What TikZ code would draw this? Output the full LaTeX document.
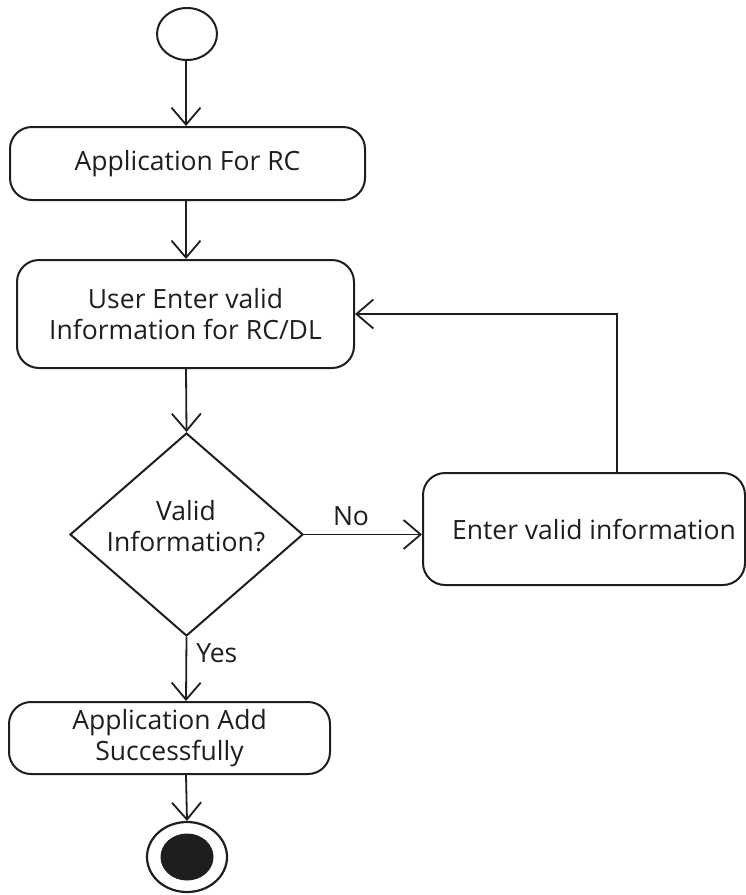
\documentclass[tikz,border=0pt]{standalone}
\usepackage{fontspec}
\setmainfont{Open Sans}
\usetikzlibrary{arrows.meta,shapes.geometric}
\definecolor{ink}{HTML}{1E1E1E}
\begin{document}
\begin{tikzpicture}[x=1pt,y=-1pt,
  txt/.style={font=\fontsize{26.5}{31}\selectfont, text=ink, align=center, inner sep=0pt},
  act/.style={draw=ink, line width=2pt, rounded corners=22pt, inner sep=0pt},
  flow/.style={draw=ink, line width=1.8pt,
    -{Straight Barb[length=17pt,width=29pt,line width=1.8pt]}},
]
\useasboundingbox (0,0) rectangle (746,895);

% start and end states
\node[ellipse, draw=ink, line width=2pt, minimum width=60pt, minimum height=52pt, inner sep=0pt] (start) at (187,34) {};
\node[ellipse, draw=ink, line width=2.2pt, minimum width=80pt, minimum height=70pt, inner sep=0pt] (stop) at (187,857) {};
\node[ellipse, fill=ink, minimum width=53pt, minimum height=47pt, inner sep=0pt] (stopdot) at (stop.center) {};

% activities
\node[act, minimum width=355pt, minimum height=73pt] (apply) at (187.5,163.5) {};
\node[txt] at (apply.center) {Application For RC};

\node[act, minimum width=337pt, minimum height=108pt] (input) at (185.5,314) {};
\node[txt] at (input.center) {User Enter valid\\Information for RC/DL};

\node[diamond, draw=ink, line width=2pt, minimum width=233pt, minimum height=203pt, inner sep=0pt] (check) at (186.5,534.5) {};
\node[txt] at (186,526) {Valid\\Information?};

\node[act, minimum width=322pt, minimum height=112pt] (fix) at (584,529) {};
\node[txt] at (594,529) {Enter valid information};

\node[act, minimum width=321pt, minimum height=72pt] (done) at (169.5,738) {};
\node[txt] at (done.center) {Application Add\\Successfully};

% flows along the main column
\coordinate (col) at (186,0);
\draw[flow] (col |- start.south) -- (col |- apply.north);
\draw[flow] (col |- apply.south) -- (col |- input.north);
\draw[flow] (col |- input.south) -- (check.north);
\draw[flow] (check.south) -- (col |- done.north)
  node[pos=0.25, right=9pt, txt] {Yes};
\draw[flow] (col |- done.south) -- (stop.north);

% rejected input loops back
\draw[flow] (check.east) -- (check.east -| fix.west)
  node[midway, above=8pt, txt, xshift=-12pt] {No};
\draw[flow] ([xshift=33pt]fix.north) |- (input.east);
\end{tikzpicture}
\end{document}
